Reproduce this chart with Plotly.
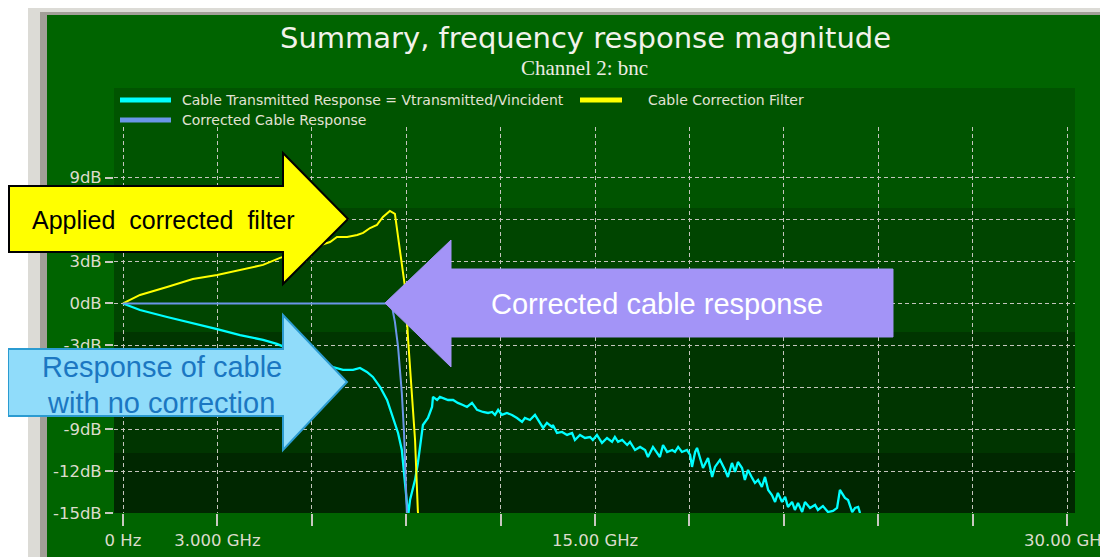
import plotly.graph_objects as go

# ---------------- data (GHz, dB) ----------------
cable_freq = [0.00, 0.54, 1.40, 2.22, 2.99, 3.72, 4.45, 4.89, 6.67, 6.99, 7.31, 7.53, 7.75, 7.94,
              8.17, 8.39, 8.58, 8.74, 8.86, 8.96, 9.06, 9.12, 9.28, 9.37, 9.50, 9.53, 9.69, 9.82,
              9.85, 9.98, 10.07, 10.17, 10.33, 10.49, 10.64, 10.80, 10.93, 11.09, 11.25, 11.44,
              11.60, 11.73, 11.82, 11.92, 12.04, 12.20, 12.36, 12.52, 12.68, 12.77, 12.93, 13.09,
              13.25, 13.35, 13.47, 13.63, 13.66, 13.79, 13.95, 14.11, 14.27, 14.36, 14.52, 14.68,
              14.84, 14.93, 15.06, 15.22, 15.38, 15.54, 15.63, 15.73, 15.86, 16.02, 16.11, 16.27,
              16.43, 16.59, 16.68, 16.84, 16.97, 17.06, 17.16, 17.29, 17.45, 17.54, 17.64, 17.76,
              17.92, 18.02, 18.08, 18.18, 18.24, 18.34, 18.43, 18.59, 18.72, 18.81, 18.97, 19.13,
              19.22, 19.35, 19.45, 19.54, 19.67, 19.76, 19.86, 19.99, 20.08, 20.18, 20.30, 20.40,
              20.50, 20.62, 20.72, 20.81, 20.94, 21.04, 21.13, 21.26, 21.35, 21.45, 21.58, 21.67,
              21.83, 21.99, 22.08, 22.24, 22.40, 22.56, 22.69, 22.78, 22.94, 23.04, 23.17, 23.26,
              23.36, 23.42]
cable_db = [0.00, -0.47, -0.97, -1.40, -1.83, -2.26, -2.61, -2.90, -4.55, -4.76, -4.76, -4.62, -4.90, -5.26,
            -5.98, -6.91, -8.12, -9.27, -10.49, -13.14, -15.20, -14.07, -12.63, -11.42, -9.27, -8.70, -8.20, -7.41,
            -6.69, -6.91, -6.69, -6.76, -6.91, -6.91, -7.12, -7.27, -7.41, -7.12, -7.62, -7.77,
            -7.84, -7.77, -7.98, -7.62, -7.98, -7.84, -7.98, -8.20, -8.48, -8.20, -8.34, -7.98,
            -8.55, -8.91, -8.55, -8.84, -8.70, -9.27, -9.20, -9.41, -9.27, -9.77, -9.41, -9.63,
            -9.56, -9.77, -9.41, -9.98, -9.63, -9.91, -9.56, -9.91, -9.77, -10.13, -9.91, -10.49,
            -10.27, -10.49, -10.99, -10.27, -10.70, -10.99, -10.13, -10.63, -10.49, -10.63, -10.27, -10.63,
            -10.49, -10.84, -11.70, -10.63, -10.34, -11.20, -11.78, -11.06, -12.42, -11.70, -11.20, -11.92,
            -12.42, -11.42, -12.06, -11.35, -11.78, -12.63, -11.92, -12.49, -12.85, -12.63, -13.14, -12.42,
            -13.35, -13.71, -14.21, -13.56, -14.21, -13.85, -14.57, -14.21, -14.78, -14.28, -14.93, -14.21,
            -14.64, -14.42, -14.78, -14.50, -14.93, -14.85, -14.64, -13.35, -13.92, -14.07, -14.93, -14.64,
            -14.57, -15.00]

filter_freq = [0.00, 0.54, 1.40, 2.22, 2.99, 3.72, 4.45, 4.99, 6.58, 6.80, 7.12, 7.44, 7.63, 7.85,
               8.07, 8.26, 8.48, 8.64, 8.80, 8.96, 9.06, 9.18, 9.28, 9.37, 9.40]
filter_db = [0.00, 0.61, 1.18, 1.75, 2.04, 2.40, 2.76, 3.26, 4.40, 4.76, 4.76, 4.90, 5.05, 5.40,
             5.62, 6.19, 6.62, 6.41, 3.61, 1.18, -2.61, -6.41, -9.77, -14.90, -15.40]

corr_freq = [0.00, 4.00, 8.39, 8.55, 8.64, 8.74, 8.86, 8.93, 8.96, 9.02, 9.05]
corr_db = [0.00, 0.00, 0.00, -0.25, -1.32, -3.11, -6.41, -9.27, -11.42, -15.00, -15.40]

series_names = ["Cable Transmitted Response = Vtransmitted/Vincident",
                "Cable Correction Filter",
                "Corrected Cable Response"]
series_colors = ["#00ffff", "#ffff00", "#6a96e8"]

x_tickvals = [0, 3, 6, 9, 12, 15, 18, 21, 24, 27, 30]
x_ticktext = ["0 Hz", "3.000 GHz", "", "", "", "15.00 GHz", "", "", "", "", "30.00 GHz"]
y_tickvals = [-15, -12, -9, -6, -3, 0, 3, 6, 9]
# 6dB and -6dB labels are hidden behind the callout arrows in the reference
y_ticktext = ["-15dB", "-12dB", "-9dB", "", "-3dB", "0dB", "3dB", "", "9dB"]

title_text = "Summary, frequency response magnitude"
subtitle_text = "Channel 2: bnc"
callout_filter = "Applied\u00a0 corrected\u00a0 filter"
callout_corrected = "Corrected cable response"
callout_cable = ["Response of cable", "with no correction"]

# ---------------- layout geometry ----------------
# The page body has an 8px default margin, so the figure is 8px smaller
# and all page-pixel positions below are shifted by that offset.
OFF = 8
W, H = 1108 - OFF, 557 - OFF
L, R, T, B = 114 - OFF, 33, 127 - OFF, 44
PW, PH = W - L - R, H - T - B


def px(X):
    return (X - OFF - L) / PW


def py(Y):
    return (H - B - (Y - OFF)) / PH


def path_from(points):
    s = "M " + " L ".join(f"{px(x):.5f},{py(y):.5f}" for x, y in points)
    return s + " Z"


fig = go.Figure()
for xs, ys, name, col, wd in [
    (cable_freq, cable_db, series_names[0], series_colors[0], 2.3),
    (filter_freq, filter_db, series_names[1], series_colors[1], 2.0),
    (corr_freq, corr_db, series_names[2], series_colors[2], 2.0),
]:
    fig.add_trace(go.Scatter(x=xs, y=ys, mode="lines", name=name,
                             line=dict(color=col, width=wd), showlegend=False,
                             hoverinfo="skip"))

shapes = []
# outer frame
shapes.append(dict(type="rect", xref="paper", yref="paper", layer="below",
                   x0=px(28), x1=px(1112), y0=py(562), y1=py(8),
                   fillcolor="#dcdbd6", line=dict(width=0)))
shapes.append(dict(type="rect", xref="paper", yref="paper", layer="below",
                   x0=px(40), x1=px(1112), y0=py(562), y1=py(12),
                   fillcolor="#a29f98", line=dict(width=0)))
shapes.append(dict(type="rect", xref="paper", yref="paper", layer="below",
                   x0=px(47), x1=px(1112), y0=py(562), y1=py(15),
                   fillcolor="#006400", line=dict(width=0)))
# plot background bands
for y0, y1, c in [(88, 208, "#005400"), (208, 332, "#004500"),
                  (332, 453, "#003500"), (453, 513, "#002700")]:
    shapes.append(dict(type="rect", xref="paper", yref="paper", layer="below",
                       x0=px(114), x1=px(1075), y0=py(y1), y1=py(y0),
                       fillcolor=c, line=dict(width=0)))
# legend swatches
for (x0, x1, y), col in zip([(120, 171, 100), (580, 622, 100), (120, 171, 120)], series_colors):
    shapes.append(dict(type="line", xref="paper", yref="paper", layer="above",
                       x0=px(x0), x1=px(x1), y0=py(y), y1=py(y),
                       line=dict(color=col, width=5)))
# callout arrows
shapes.append(dict(type="path", xref="paper", yref="paper", layer="above",
                   path=path_from([(9, 186), (283, 186), (283, 153), (348, 219),
                                   (283, 284), (283, 252), (9, 252)]),
                   fillcolor="#ffff00", line=dict(color="#000000", width=2)))
shapes.append(dict(type="path", xref="paper", yref="paper", layer="above",
                   path=path_from([(8, 349), (283, 349), (283, 315), (347, 382),
                                   (283, 450), (283, 416), (8, 416)]),
                   fillcolor="#90dcfa", line=dict(color="#2b9bd1", width=2)))
shapes.append(dict(type="path", xref="paper", yref="paper", layer="above",
                   path=path_from([(385, 303), (451, 240), (451, 269), (893, 269),
                                   (893, 337), (451, 337), (451, 367)]),
                   fillcolor="#a394f7", line=dict(color="#a394f7", width=1)))

ann = []
ann.append(dict(text=title_text, x=px(585), y=py(38), xref="paper", yref="paper",
                xanchor="center", yanchor="middle", showarrow=False,
                font=dict(family="DejaVu Sans", size=29, color="#f2f2ea")))
ann.append(dict(text=subtitle_text, x=px(584), y=py(68), xref="paper", yref="paper",
                xanchor="center", yanchor="middle", showarrow=False,
                font=dict(family="Liberation Serif", size=21, color="#ecece2")))
for (x, y), t in zip([(180, 100), (646, 100), (180, 120)], series_names):
    ann.append(dict(text=t, x=px(x), y=py(y), xref="paper", yref="paper",
                    xanchor="left", yanchor="middle", showarrow=False,
                    font=dict(family="DejaVu Sans", size=14, color="#e2e2d4")))
ann.append(dict(text=callout_filter, x=px(163), y=py(220), xref="paper", yref="paper",
                xanchor="center", yanchor="middle", showarrow=False,
                font=dict(family="Liberation Sans", size=25, color="#000000")))
ann.append(dict(text=callout_corrected, x=px(657), y=py(304), xref="paper", yref="paper",
                xanchor="center", yanchor="middle", showarrow=False,
                font=dict(family="Liberation Sans", size=29, color="#ffffff")))
for (x, y), t in zip([(162, 367), (161, 403)], callout_cable):
    ann.append(dict(text=t, x=px(x), y=py(y), xref="paper", yref="paper",
                    xanchor="center", yanchor="middle", showarrow=False,
                    font=dict(family="Liberation Sans", size=29, color="#1b77c2")))

tick_font = dict(family="DejaVu Sans", size=16.5, color="#dcdccc")
fig.update_layout(
    width=W, height=H,
    margin=dict(l=L, r=R, t=T, b=B, pad=0, autoexpand=False),
    paper_bgcolor="#ffffff",
    plot_bgcolor="rgba(0,0,0,0)",
    showlegend=False,
    shapes=shapes,
    annotations=ann,
    xaxis=dict(range=[-0.286, 30.25], tickvals=x_tickvals, ticktext=x_ticktext,
               showgrid=True, gridcolor="#c4c4bc", gridwidth=1, griddash="4px,3px",
               zeroline=False, showline=False, ticks="outside", ticklen=12,
               tickwidth=2, tickcolor="#c8c8c0", tickfont=tick_font, fixedrange=True,
               automargin=False, ticklabeloverflow="allow"),
    yaxis=dict(range=[-15, 12.63], tickvals=y_tickvals, ticktext=y_ticktext,
               showgrid=True, gridcolor="#c4c4bc", gridwidth=1, griddash="4px,3px",
               zeroline=False, showline=False, ticks="outside", ticklen=8,
               tickwidth=1.5, tickcolor="#c8c8c0", tickfont=tick_font, fixedrange=True,
               automargin=False, ticklabeloverflow="allow"),
)

fig.write_html("out.html", config={"displayModeBar": False})
